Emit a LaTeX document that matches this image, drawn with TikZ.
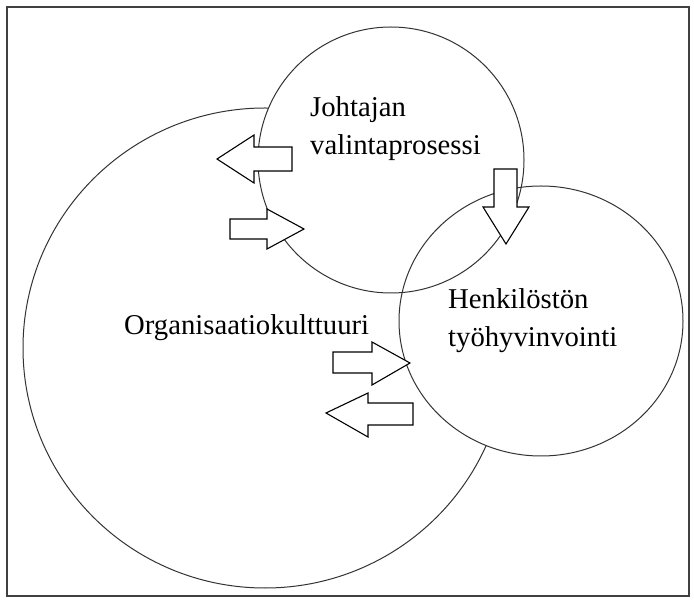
\documentclass[tikz,border=0pt]{standalone}
\usepackage{fontspec}
\setmainfont{Liberation Serif}
\usetikzlibrary{shapes.geometric}
\begin{document}
\begin{tikzpicture}[x=1pt,y=-1pt,
  ring/.style={line width=1pt,inner sep=0pt},
  blockarrow/.style={draw=black,fill=white,line width=1.1pt,line join=miter},
  lbl/.style={inner sep=0pt,anchor=base west,font=\fontsize{28.7}{30}\selectfont},
  frame/.style={draw=black!75,line width=1.3pt}]
\useasboundingbox (0,0) rectangle (694,601);
\draw[frame] (7,7) rectangle (689,596);
% circles: the big one lies beneath, the two others overlap with both outlines seen
\node[ring,draw=black!80,fill=white,ellipse,minimum width=484pt,minimum height=480pt] (org) at (265,348) {};
\node[ring,fill=white,circle,minimum size=266pt] (johf) at (391,160) {};
\node[ring,fill=white,ellipse,minimum width=284pt,minimum height=270pt] (henf) at (541,321) {};
\node[ring,draw=black!80,circle,minimum size=266pt] (joh) at (391,160) {};
\node[ring,draw=black!80,ellipse,minimum width=284pt,minimum height=270pt] (hen) at (541,321) {};
% block arrows
\draw[blockarrow] (217,159) -- (254,135) -- (254,147) -- (292,147) -- (292,171) -- (254,171) -- (254,183) -- cycle;
\draw[blockarrow] (304,229) -- (267,209) -- (267,219) -- (230,219) -- (230,239) -- (267,239) -- (267,249) -- cycle;
\draw[blockarrow] (506,244) -- (483,207) -- (494,207) -- (494,169) -- (517,169) -- (517,207) -- (529,207) -- cycle;
\draw[blockarrow] (410,363) -- (372,342) -- (372,352) -- (333,352) -- (333,373) -- (372,373) -- (372,385) -- cycle;
\draw[blockarrow] (326,413) -- (368,393) -- (368,403) -- (413,403) -- (413,425) -- (368,425) -- (368,437) -- cycle;
% texts
\node[lbl] (t1) at (310,117) {Johtajan};
\node[lbl] (t2) at (310,155) {valintaprosessi};
\node[lbl] (t3) at (448,309) {Henkilöstön};
\node[lbl] (t4) at (448,347) {työhyvinvointi};
\node[lbl] (t5) at (124,335) {Organisaatiokulttuuri};
\end{tikzpicture}
\end{document}
